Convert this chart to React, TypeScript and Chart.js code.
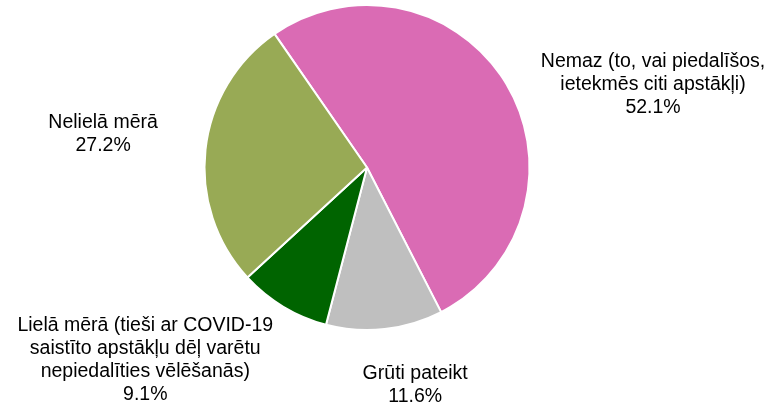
import React, { useEffect, useRef } from "react";
import { Chart, registerables } from "chart.js";

Chart.register(...registerables);

const categories: string[][] = [
  ["Nemaz (to, vai piedalīšos,", "ietekmēs citi apstākļi)"],
  ["Grūti pateikt"],
  ["Lielā mērā (tieši ar COVID-19", "saistīto apstākļu dēļ varētu", "nepiedalīties vēlēšanās)"],
  ["Nelielā mērā"],
];
const values: number[] = [52.1, 11.6, 9.1, 27.2];
const colors: string[] = ["#DA6BB4", "#BFBFBF", "#006400", "#98AA55"];
// label placement: angle (deg, clockwise from top) and distance in radii from pie centre
const labelAngles: number[] = [73.9, 167.5, 229, 277.2];
const labelDistances: number[] = [1.832, 1.37, 1.808, 1.637];

const FONT = "19.5px 'Liberation Sans', Arial, sans-serif";
const LINE_H = 23;

const labelPlugin = {
  id: "outerLabels",
  afterDatasetsDraw(chart: any) {
    const meta = chart.getDatasetMeta(0);
    const ctx = chart.ctx as CanvasRenderingContext2D;
    ctx.save();
    ctx.font = FONT;
    ctx.fillStyle = "#000";
    ctx.textAlign = "center";
    ctx.textBaseline = "middle";
    meta.data.forEach((arc: any, i: number) => {
      const { x, y, outerRadius } = arc.getProps(["x", "y", "outerRadius"], true);
      const a = (labelAngles[i] * Math.PI) / 180;
      const d = labelDistances[i] * outerRadius;
      const cx = x + Math.sin(a) * d;
      const cy = y - Math.cos(a) * d;
      const lines = [...categories[i], values[i].toFixed(1) + "%"];
      const top = cy - ((lines.length - 1) * LINE_H) / 2;
      lines.forEach((t, j) => ctx.fillText(t, cx, top + j * LINE_H));
    });
    ctx.restore();
  },
};

export default function App() {
  const ref = useRef<HTMLCanvasElement>(null);
  useEffect(() => {
    document.body.style.margin = "0";
    const chart = new Chart(ref.current!, {
      type: "pie",
      data: {
        labels: categories.map((c) => c.join(" ")),
        datasets: [
          {
            data: values,
            backgroundColor: colors,
            borderColor: "#FFFFFF",
            borderWidth: 2,
          },
        ],
      },
      options: {
        responsive: false,
        animation: false,
        rotation: -34.7,
        layout: { padding: { top: 4, bottom: 76, left: 100, right: 137 } },
        plugins: {
          legend: { display: false },
          tooltip: { enabled: false },
          title: { display: false },
        },
      },
      plugins: [labelPlugin],
    });
    return () => chart.destroy();
  }, []);
  return (
    <div style={{ width: 771, height: 407, background: "#fff" }}>
      <canvas ref={ref} width={771} height={407} />
    </div>
  );
}
